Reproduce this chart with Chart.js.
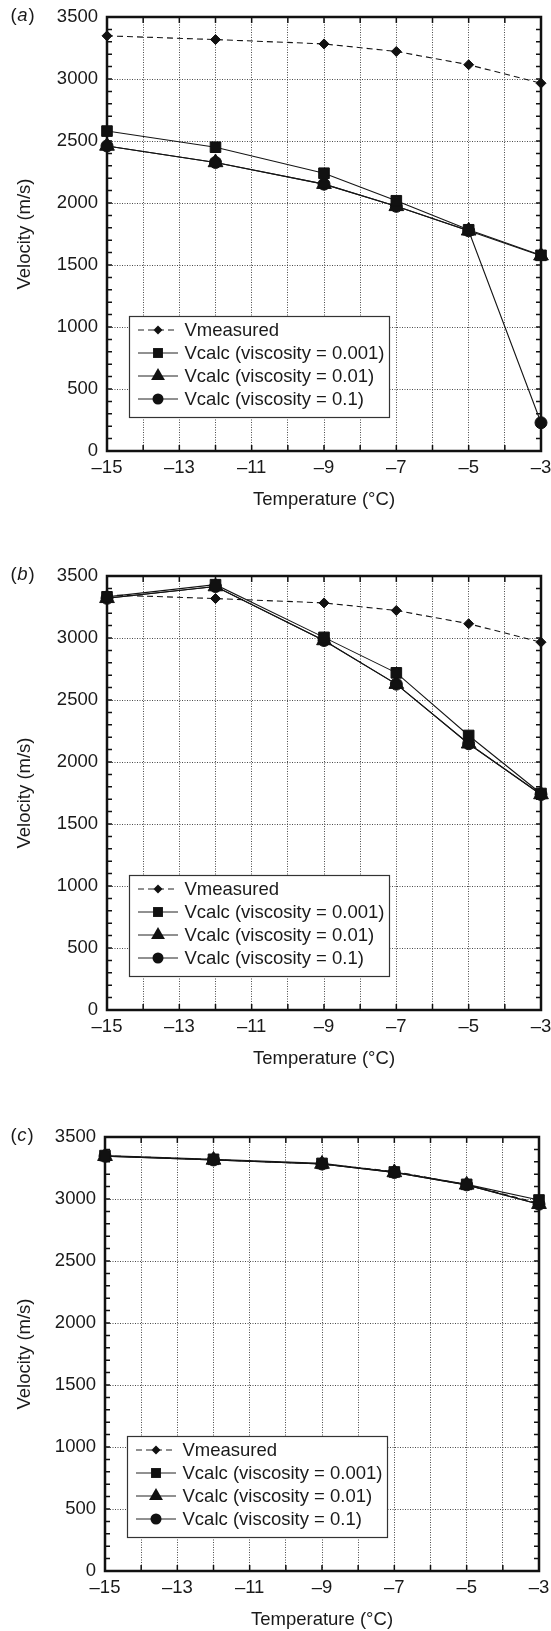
<!DOCTYPE html>
<html>
<head>
<meta charset="utf-8">
<script src="https://cdn.jsdelivr.net/npm/chart.js@4.4.0/dist/chart.umd.min.js"></script>
<style>
    html, body { margin: 0; padding: 0; background: #fff; overflow: hidden; }
    .panel { position: absolute; left: 0; width: 551px; height: 530px; }
</style>
</head>
<body>
<div class="panel" style="top:0px"><canvas id="chartA" width="551" height="530"></canvas></div>
<div class="panel" style="top:559px"><canvas id="chartB" width="551" height="530"></canvas></div>
<div class="panel" style="top:1120px"><canvas id="chartC" width="551" height="530"></canvas></div>
<script>
// Temperatures (°C) where velocities were measured / computed
const temps = [-15, -12, -9, -7, -5, -3];
const xTickLabels = [-15, -13, -11, -9, -7, -5, -3];
const yTickLabels = [0, 500, 1000, 1500, 2000, 2500, 3000, 3500];

const seriesNames = ['Vmeasured', 'Vcalc (viscosity = 0.001)', 'Vcalc (viscosity = 0.01)', 'Vcalc (viscosity = 0.1)'];

// measured velocity (m/s), same in every panel
const vMeasured = [3348, 3318, 3283, 3222, 3115, 2966];

// panel (a)
const aVisc001 = [2580, 2450, 2240, 2018, 1784, 1578];
const aVisc01  = [2460, 2327, 2152, 1973, 1776, 1575];
const aVisc1   = [2460, 2327, 2152, 1973, 1776, 228];

// panel (b)
const bVisc001 = [3332, 3430, 3005, 2719, 2214, 1746];
const bVisc01  = [3320, 3415, 2980, 2628, 2147, 1738];
const bVisc1   = [3320, 3415, 2980, 2628, 2147, 1738];

// panel (c)
const cVisc001 = [3350, 3320, 3287, 3218, 3118, 2992];
const cVisc01  = [3345, 3315, 3282, 3214, 3114, 2958];
const cVisc1   = [3345, 3315, 3282, 3214, 3114, 2958];

const FONT_FAMILY = '"Liberation Sans", Arial, Helvetica, sans-serif';
const FONT_SIZE = 18.5;
const INK = '#1a1a1a';

function fmtTemp(v) {
    return v < 0 ? '\u2013' + Math.abs(v) : String(v);
}

function makeDatasets(v001, v01, v1) {
    const xy = vals => temps.map((t, i) => ({ x: t, y: vals[i] }));
    const sets = [
        { label: seriesNames[0], data: xy(vMeasured), borderDash: [6, 4], pointStyle: 'rectRot', pointRadius: 5, order: 4 },
        { label: seriesNames[1], data: xy(v001), pointStyle: 'rect', pointRadius: 7.5, order: 1 },
        { label: seriesNames[2], data: xy(v01), pointStyle: 'triangle', pointRadius: 8.5, order: 2 },
        { label: seriesNames[3], data: xy(v1), pointStyle: 'circle', pointRadius: 6, order: 3 }
    ];
    return sets.map(ds => Object.assign({
        borderColor: '#151515',
        backgroundColor: '#111',
        pointBackgroundColor: '#111',
        pointBorderColor: '#111',
        pointBorderWidth: 1,
        borderWidth: 1.1,
        tension: 0,
        clip: false
    }, ds));
}

// Inward tick marks and the heavy frame round the plot
const frameTicks = {
    id: 'frameTicks',
    beforeDatasetsDraw(chart) {
        const { ctx, chartArea: a, scales: { x, y } } = chart;
        ctx.save();
        ctx.strokeStyle = '#111';
        ctx.lineWidth = 1.5;
        ctx.beginPath();
        for (let t = -15; t <= -3; t += 1) {
            const px = x.getPixelForValue(t);
            ctx.moveTo(px, a.top); ctx.lineTo(px, a.top + 6);
            ctx.moveTo(px, a.bottom); ctx.lineTo(px, a.bottom - 6);
        }
        for (let v = 0; v <= 3500; v += 100) {
            const py = y.getPixelForValue(v);
            ctx.moveTo(a.left, py); ctx.lineTo(a.left + 5, py);
            ctx.moveTo(a.right, py); ctx.lineTo(a.right - 5, py);
        }
        ctx.stroke();
        ctx.lineWidth = 2.5;
        ctx.strokeRect(a.left, a.top, a.right - a.left, a.bottom - a.top);
        ctx.restore();
    }
};

function drawMarker(ctx, style, r, x, y) {
    ctx.beginPath();
    if (style === 'rect') {
        const s = r * Math.SQRT1_2;
        ctx.rect(x - s, y - s, 2 * s, 2 * s);
    } else if (style === 'rectRot') {
        ctx.moveTo(x - r, y); ctx.lineTo(x, y - r); ctx.lineTo(x + r, y); ctx.lineTo(x, y + r);
        ctx.closePath();
    } else if (style === 'triangle') {
        ctx.moveTo(x, y - r);
        ctx.lineTo(x + r * Math.sin(2 * Math.PI / 3), y + r / 2);
        ctx.lineTo(x - r * Math.sin(2 * Math.PI / 3), y + r / 2);
        ctx.closePath();
    } else {
        ctx.arc(x, y, r, 0, Math.PI * 2);
    }
    ctx.fill();
}

// Boxed legend inside the plot, lower left
const boxLegend = {
    id: 'boxLegend',
    afterDraw(chart) {
        const { ctx, chartArea: a } = chart;
        const w = 260, h = 101;
        const left = a.left + 22, top = a.bottom - 34 - h;
        ctx.save();
        ctx.fillStyle = '#fff';
        ctx.fillRect(left, top, w, h);
        ctx.strokeStyle = '#333';
        ctx.lineWidth = 1.2;
        ctx.strokeRect(left + 0.5, top + 0.5, w, h);

        chart.data.datasets.forEach((ds, i) => {
            const cy = top + 14 + i * 23;
            ctx.strokeStyle = '#222';
            ctx.lineWidth = 1;
            ctx.setLineDash(ds.borderDash || []);
            ctx.beginPath();
            ctx.moveTo(left + 9, cy);
            ctx.lineTo(left + 49, cy);
            ctx.stroke();
            ctx.setLineDash([]);
            ctx.fillStyle = '#111';
            drawMarker(ctx, ds.pointStyle, ds.pointStyle === 'rectRot' ? 4.5 : ds.pointRadius - 0.5, left + 29, cy);
            ctx.fillStyle = INK;
            ctx.font = FONT_SIZE + 'px ' + FONT_FAMILY;
            ctx.textBaseline = 'middle';
            ctx.textAlign = 'left';
            ctx.fillText(ds.label, left + 55.5, cy + 1);
        });
        ctx.restore();
    }
};

// "(a)", "(b)", "(c)" with italic letter
function panelLabel(letter) {
    return {
        id: 'panelLabel',
        afterDraw(chart) {
            const { ctx, chartArea: a } = chart;
            const y = a.top - 1;
            let x = 10.5;
            ctx.save();
            ctx.fillStyle = INK;
            ctx.textBaseline = 'middle';
            ctx.textAlign = 'left';
            ctx.font = FONT_SIZE + 'px ' + FONT_FAMILY;
            ctx.fillText('(', x, y);
            x += ctx.measureText('(').width + 0.5;
            ctx.font = 'italic ' + FONT_SIZE + 'px ' + FONT_FAMILY;
            ctx.fillText(letter, x, y);
            x += ctx.measureText(letter).width + 1;
            ctx.font = FONT_SIZE + 'px ' + FONT_FAMILY;
            ctx.fillText(')', x, y);
            ctx.restore();
        }
    };
}

function makeChart(canvasId, letter, plotLeft, v001, v01, v1) {
    const font = { family: FONT_FAMILY, size: FONT_SIZE };
    return new Chart(document.getElementById(canvasId), {
        type: 'line',
        data: { datasets: makeDatasets(v001, v01, v1) },
        options: {
            responsive: false,
            animation: false,
            devicePixelRatio: 1,
            layout: { padding: { left: 0, top: 17, right: 551 - plotLeft - 434, bottom: 0 } },
            plugins: {
                legend: { display: false },
                tooltip: { enabled: false }
            },
            scales: {
                x: {
                    type: 'linear',
                    min: -15,
                    max: -3,
                    ticks: {
                        stepSize: 1,
                        autoSkip: false,
                        maxRotation: 0,
                        padding: 6,
                        color: INK,
                        font: font,
                        callback: v => xTickLabels.includes(v) ? fmtTemp(v) : ''
                    },
                    grid: { color: '#4a4a4a', lineWidth: 1, drawTicks: false },
                    border: { display: false, dash: [1, 1.5] },
                    title: {
                        display: true,
                        text: 'Temperature (°C)',
                        color: INK,
                        font: font,
                        padding: { top: 0, bottom: 19 }
                    },
                    afterFit: s => { s.height = 79; s.paddingLeft = 0; s.paddingRight = 0; }
                },
                y: {
                    type: 'linear',
                    min: 0,
                    max: 3500,
                    ticks: {
                        stepSize: 500,
                        autoSkip: false,
                        padding: 9,
                        color: INK,
                        font: font,
                        callback: v => yTickLabels.includes(v) ? String(v) : ''
                    },
                    grid: { color: '#4a4a4a', lineWidth: 1, drawTicks: false },
                    border: { display: false, dash: [1, 1.5] },
                    title: {
                        display: true,
                        text: 'Velocity (m/s)',
                        color: INK,
                        font: font,
                        padding: { top: 13.4, bottom: 0 }
                    },
                    afterFit: s => { s.width = plotLeft; s.paddingTop = 0; s.paddingBottom = 0; }
                }
            }
        },
        plugins: [frameTicks, boxLegend, panelLabel(letter)]
    });
}

makeChart('chartA', 'a', 107, aVisc001, aVisc01, aVisc1);
makeChart('chartB', 'b', 107, bVisc001, bVisc01, bVisc1);
makeChart('chartC', 'c', 105, cVisc001, cVisc01, cVisc1);
</script>
</body>
</html>
